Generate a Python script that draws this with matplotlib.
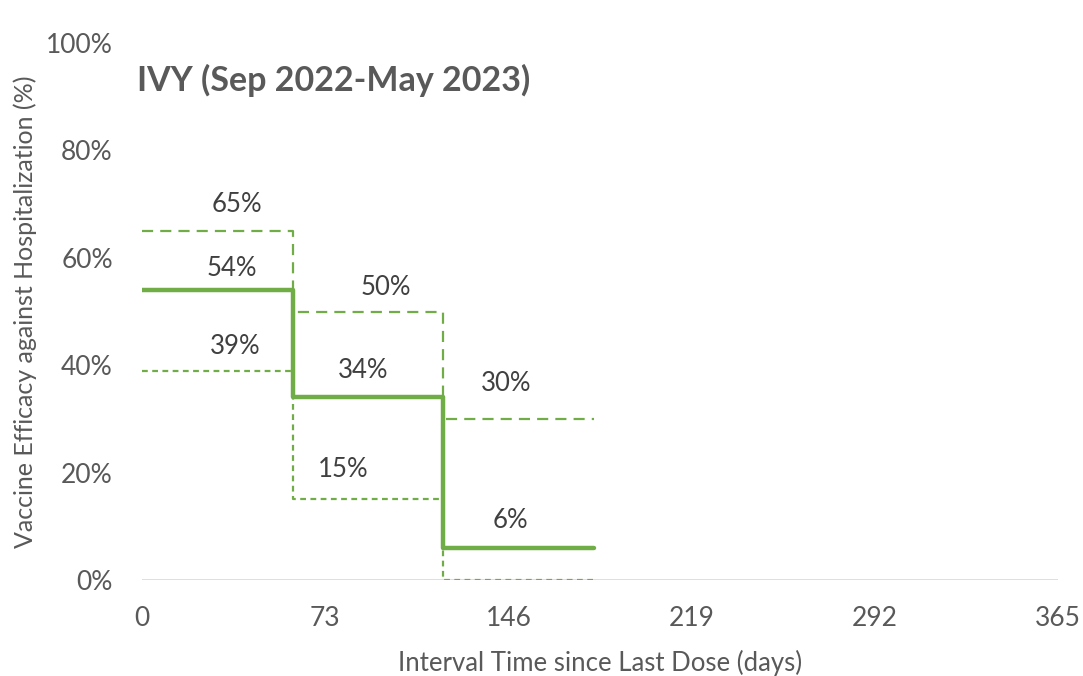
import matplotlib.pyplot as plt

plt.rcParams['font.family'] = ['Lato', 'DejaVu Sans']

# interval edges in days, point estimate and 95% CI bounds (%)
days = [0, 60, 120, 180]
ve = [54, 34, 6]
upper = [65, 50, 30]
lower = [39, 15, 0]

xticks = [0, 73, 146, 219, 292, 365]
yticks = [0, 20, 40, 60, 80, 100]

# label anchors (days, %)
lab_ve = [(36, 58), (88, 39), (147, 11)]
lab_up = [(38, 70), (97, 54.5), (145, 36.5)]
lab_lo = [(37, 43.5), (80, 20.5), None]

green = "#70AD47"
grey = "#595959"

fig = plt.figure(figsize=(10.83, 6.76), dpi=100)
ax = fig.add_axes([0.1311, 0.142, 0.8458, 0.7944])

ax.step(days, upper + upper[-1:], where="post", color=green, lw=1.6,
        dashes=(5, 3.2))
ax.step(days, lower + lower[-1:], where="post", color=green, lw=1.6,
        dashes=(2.6, 2))
ax.step(days, ve + ve[-1:], where="post", color=green, lw=3.2,
        solid_capstyle="round", solid_joinstyle="round")

for vals, pos in [(ve, lab_ve), (upper, lab_up), (lower, lab_lo)]:
    for v, p in zip(vals, pos):
        if p is None:
            continue
        ax.text(p[0], p[1], f"{v}%", ha="center", va="center",
                fontsize=18.5, color="#404040")

ax.axhline(0, color="#D9D9D9", lw=1.2, zorder=0)

ax.set_xlim(0, 365)
ax.set_ylim(0, 100)
ax.set_xticks(xticks)
ax.set_yticks(yticks)
ax.set_yticklabels([f"{t}%" for t in yticks])
ax.tick_params(length=0, labelsize=19, labelcolor=grey)
ax.tick_params(axis="y", pad=21)
ax.tick_params(axis="x", pad=19)
for s in ax.spines.values():
    s.set_visible(False)

ax.set_xlabel("Interval Time since Last Dose (days)", fontsize=18.5,
              color=grey)
ax.set_ylabel("Vaccine Efficacy against Hospitalization (%)", fontsize=18,
              color=grey)
ax.xaxis.set_label_coords(0.5, -0.13)
ax.yaxis.set_label_coords(-0.115, 0.5)

ax.text(-2, 93, "IVY (Sep 2022-May 2023)", fontsize=24.5, fontweight="bold",
        color=grey, ha="left", va="center")

fig.savefig("out.png", dpi=100)
